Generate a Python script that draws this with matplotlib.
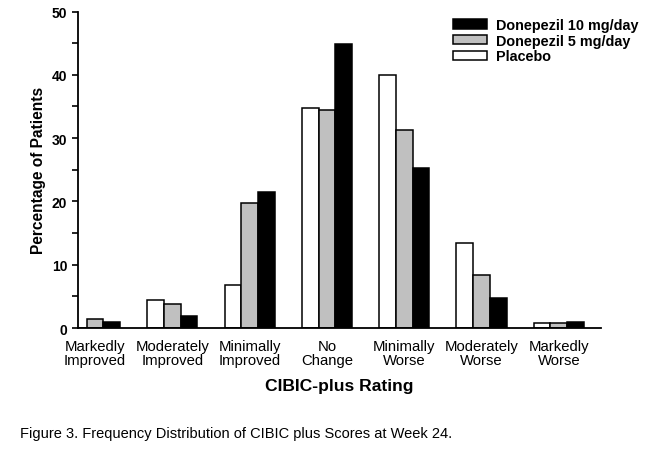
import numpy as np
import matplotlib
matplotlib.use("Agg")
import matplotlib.pyplot as plt
from matplotlib.ticker import MultipleLocator
from matplotlib.patches import Patch

categories = ["Markedly\nImproved", "Moderately\nImproved", "Minimally\nImproved",
              "No\nChange", "Minimally\nWorse", "Moderately\nWorse", "Markedly\nWorse"]
placebo = [0.0, 4.5, 6.8, 34.7, 39.9, 13.5, 0.75]
done5 = [1.5, 3.8, 19.8, 34.4, 31.3, 8.4, 0.75]
done10 = [1.0, 1.9, 21.5, 44.9, 25.3, 4.8, 1.0]
series_names = ["Placebo", "Donepezil 5 mg/day", "Donepezil 10 mg/day"]
yticks = [0, 10, 20, 30, 40, 50]

plt.rcParams['font.family'] = ['Liberation Sans', 'DejaVu Sans']

fig = plt.figure(figsize=(6.71, 4.52), dpi=100)
ax = fig.add_axes([0.1162, 0.2721, 0.7794, 0.7002])

x = np.arange(len(categories))
w = 0.216
colors = ["white", "#c0c0c0", "black"]
for i, (vals, c, name) in enumerate(zip([placebo, done5, done10], colors, series_names)):
    ax.bar(x + (i - 1) * w, vals, width=w, color=c, edgecolor="black",
           linewidth=1.1, label=name)

ax.set_ylim(0, 50)
ax.set_xlim(-0.22, 6.545)
ax.spines['top'].set_visible(False)
ax.spines['right'].set_visible(False)
ax.spines['left'].set_linewidth(1.3)
ax.spines['bottom'].set_linewidth(1.3)
ax.set_yticks(yticks)
ax.yaxis.set_minor_locator(MultipleLocator(5))
ax.tick_params(axis='y', which='major', length=4, width=1.2, labelsize=10, pad=3.8)
ax.tick_params(axis='y', which='minor', length=4, width=1.2)
for lbl in ax.get_yticklabels():
    lbl.set_fontweight('bold')
ax.set_xticks(x)
ax.set_xticklabels(categories, fontsize=10.7, linespacing=1.0)
ax.tick_params(axis='x', length=0, pad=8)

ax.set_ylabel("Percentage of Patients", fontsize=11.2, fontweight='bold', labelpad=4)
ax.set_xlabel("CIBIC-plus Rating", fontsize=12.6, fontweight='bold', labelpad=8)

handles = [Patch(facecolor=c, edgecolor='black', linewidth=1.1) for c in colors][::-1]
fig.legend(handles, series_names[::-1], loc='upper left',
           bbox_to_anchor=(453 / 671, 1 - 19 / 452),
           frameon=False, prop={'weight': 'bold', 'size': 10.4},
           handlelength=2.35, handleheight=0.63, labelspacing=0.12, handletextpad=0.62,
           borderaxespad=0, borderpad=0)

fig.text(20 / 671, 1 - 434 / 452, "Figure 3. Frequency Distribution of CIBIC plus Scores at Week 24.",
         fontsize=10.55, ha='left', va='center')

fig.savefig("out.png", dpi=100)
